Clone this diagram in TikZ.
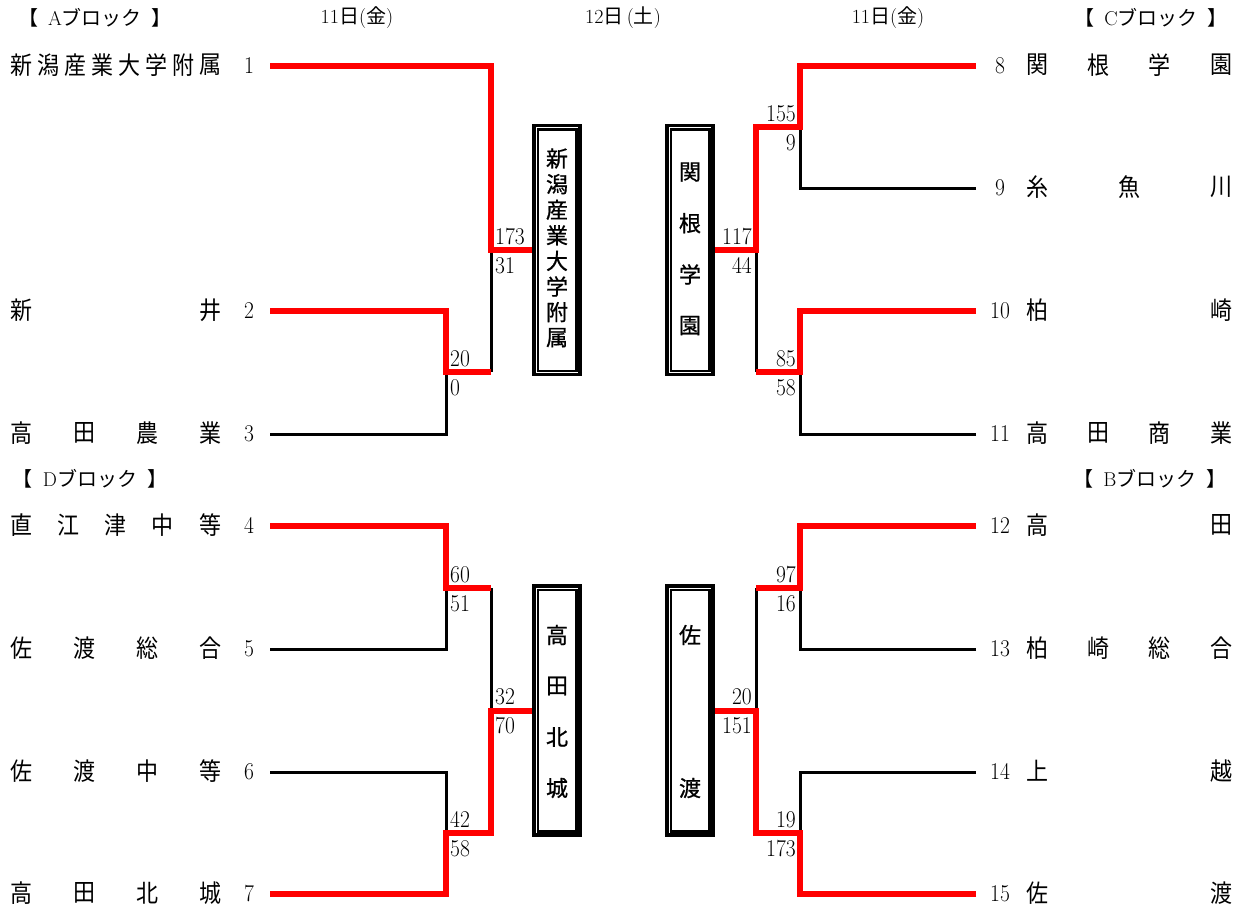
\documentclass[tikz,border=0pt]{standalone}
\usepackage{fontspec}
\newfontfamily\jp{Noto Sans CJK JP}
\newfontfamily\jpb[FakeBold=0.8]{Noto Sans CJK JP}
\definecolor{wred}{RGB}{255,0,0}
\tikzset{
  win/.style={draw=wred, line width=6pt, line join=miter},
  lose/.style={draw=black, line width=3pt},
  jch/.style={font=\jp\fontsize{22}{22}\selectfont, inner sep=0pt, anchor=center},
  num/.style={font=\fontsize{21.5}{21.5}\selectfont, inner sep=0pt},
  boxch/.style={font=\jpb\fontsize{22}{22}\selectfont, inner sep=0pt, anchor=center},
  winbox/.style={draw=black, line width=3.5pt, minimum width=46pt, inner sep=0pt},
  innerline/.style={draw=black, line width=2.5pt},
  hdr/.style={font=\fontsize{20}{20}\selectfont, inner sep=0pt, anchor=center},
}
\newcommand\sy[1]{\scalebox{1}[1.12]{#1}}
% #1 y, #2 first x, #3 last x, #4 count, #5 name prefix, #6 list
\newcommand\spreadrow[6]{%
  \foreach \ch [count=\i] in {#6} {
    \pgfmathsetmacro\xx{#2+(\i-1)*(#3-#2)/(#4-1)}
    \node[jch] (#5-\i) at (\xx,#1-1) {\sy{\ch}};
  }}
% #1 x, #2 first y, #3 pitch, #4 prefix, #5 list
\newcommand\vstack[5]{%
  \foreach \ch [count=\i] in {#5} {
    \pgfmathsetmacro\yy{#2+(\i-1)*#3}
    \node[boxch] (#4-\i) at (#1,\yy) {\ch};
  }}
\newcommand\blk[1]{{\jp【}\enspace #1{\jp ブロック}\enspace{\jp 】}}
\begin{document}
\begin{tikzpicture}[x=1pt,y=-1pt]
\useasboundingbox (0,0) rectangle (1242,911);

% headers
\node[hdr] (hA) at (95,18) {\blk{A}};
\node[hdr] (hd1) at (357,18) {11{\jp 日}({\jp 金})};
\node[hdr] (hd2) at (623,18) {12{\jp 日}\,({\jp 土})};
\node[hdr] (hd3) at (888,18) {11{\jp 日}({\jp 金})};
\node[hdr] (hC) at (1151,18) {\blk{C}};
\node[hdr] (hD) at (90,479) {\blk{D}};
\node[hdr] (hB) at (1150,479) {\blk{B}};

% team names left
\spreadrow{66}{21}{210}{8}{tA}{新,潟,産,業,大,学,附,属}
\spreadrow{311}{21}{210}{2}{tB}{新,井}
\spreadrow{434}{21}{210}{4}{tC}{高,田,農,業}
\spreadrow{526}{21}{210}{5}{tD}{直,江,津,中,等}
\spreadrow{649}{21}{210}{4}{tE}{佐,渡,総,合}
\spreadrow{772}{21}{210}{4}{tF}{佐,渡,中,等}
\spreadrow{894}{21}{210}{4}{tG}{高,田,北,城}
% team names right
\spreadrow{66}{1037}{1221}{4}{tH}{関,根,学,園}
\spreadrow{188}{1037}{1221}{3}{tI}{糸,魚,川}
\spreadrow{311}{1037}{1221}{2}{tJ}{柏,崎}
\spreadrow{434}{1037}{1221}{4}{tK}{高,田,商,業}
\spreadrow{526}{1037}{1221}{2}{tL}{高,田}
\spreadrow{649}{1037}{1221}{4}{tM}{柏,崎,総,合}
\spreadrow{772}{1037}{1221}{2}{tN}{上,越}
\spreadrow{894}{1037}{1221}{2}{tO}{佐,渡}

% team numbers
\foreach \n/\yy in {1/66,2/311,3/434,4/526,5/649,6/772,7/894}
  \node[num, anchor=base] (n\n) at (249,\yy+7) {\sy{\n}};
\foreach \n/\yy in {8/66,9/188,10/311,11/434,12/526,13/649,14/772,15/894}
  \node[num, anchor=base] (n\n) at (1000,\yy+7) {\sy{\n}};

% champion boxes
\node[winbox, minimum height=249pt] (boxA) at (557,250) {};
\node[winbox, minimum height=249pt] (boxC) at (690,250) {};
\node[winbox, minimum height=249pt] (boxD) at (557,710.5) {};
\node[winbox, minimum height=249pt] (boxB) at (690,710.5) {};
\foreach \b in {boxA,boxC,boxD,boxB}
  \draw[innerline] ([shift={(5.5,5.5)}]\b.north west) rectangle ([shift={(-5.5,-5.5)}]\b.south east);
\vstack{557}{158.5}{25.6}{wA}{新,潟,産,業,大,学,附,属}
\vstack{690}{172}{51.2}{wC}{関,根,学,園}
\vstack{557}{635}{51}{wD}{高,田,北,城}
\vstack{690}{635}{153}{wB}{佐,渡}

% coordinates left
\coordinate (s1) at (270,66);
\coordinate (s2) at (270,311);
\coordinate (s3) at (270,434);
\coordinate (s4) at (270,526);
\coordinate (s5) at (270,649);
\coordinate (s6) at (270,772);
\coordinate (s7) at (270,894);
\coordinate (a23) at (446,372);
\coordinate (a45) at (446,588);
\coordinate (a67) at (446,833);
\coordinate (b23) at (491,372);
\coordinate (b45) at (491,588);
\coordinate (b67) at (491,833);
\coordinate (cA) at (491,250);
\coordinate (cD) at (491,710.5);
% coordinates right
\coordinate (s8) at (976,66);
\coordinate (s9) at (976,188);
\coordinate (s10) at (976,311);
\coordinate (s11) at (976,434);
\coordinate (s12) at (976,526);
\coordinate (s13) at (976,649);
\coordinate (s14) at (976,772);
\coordinate (s15) at (976,894);
\coordinate (a89) at (800,127);
\coordinate (a1011) at (800,372);
\coordinate (a1213) at (800,588);
\coordinate (a1415) at (800,833);
\coordinate (b89) at (756,127);
\coordinate (b1011) at (756,372);
\coordinate (b1213) at (756,588);
\coordinate (b1415) at (756,833);
\coordinate (cC) at (756,250);
\coordinate (cB) at (756,710.5);

% losing lines
\draw[lose] (s3) -| (a23);
\draw[lose] (b23) -- (cA);
\draw[lose] (s5) -| (a45);
\draw[lose] (b45) -- (cD);
\draw[lose] (s6) -| (a67);
\draw[lose] (s9) -| (a89);
\draw[lose] (s11) -| (a1011);
\draw[lose] (b1011) -- (cC);
\draw[lose] (s13) -| (a1213);
\draw[lose] (b1213) -- (cB);
\draw[lose] (s14) -| (a1415);

% winning lines
\draw[win] (s1) -| (cA) -- (boxA.west);
\draw[win] (s2) -| (a23) -- (b23);
\draw[win] (s4) -| (a45) -- (b45);
\draw[win] (s7) -| (a67) -- (b67) -- (cD) -- (boxD.west);
\draw[win] (s8) -| (a89) -- (b89) -- (cC) -- (boxC.east);
\draw[win] (s10) -| (a1011) -- (b1011);
\draw[win] (s12) -| (a1213) -- (b1213);
\draw[win] (s15) -| (a1415) -- (b1415) -- (cB) -- (boxB.east);

% scores left (above / below)
\foreach \nm/\jx/\jy/\up/\dn in {k1/446/372/20/0, k2/491/250/173/31, k3/446/588/60/51, k4/446/833/42/58, k5/491/710.5/32/70}{
  \node[num, anchor=base west] (\nm u) at (\jx+4,\jy-6) {\sy{\up}};
  \node[num, anchor=base west] (\nm d) at (\jx+4,\jy+23) {\sy{\dn}};
}
% scores right
\foreach \nm/\jx/\jy/\up/\dn in {r1/800/127/155/9, r2/800/372/85/58, r3/756/250/117/44, r4/800/588/97/16, r5/800/833/19/173, r6/756/710.5/20/151}{
  \node[num, anchor=base east] (\nm u) at (\jx-4,\jy-6) {\sy{\up}};
  \node[num, anchor=base east] (\nm d) at (\jx-4,\jy+23) {\sy{\dn}};
}
\end{tikzpicture}
\end{document}
